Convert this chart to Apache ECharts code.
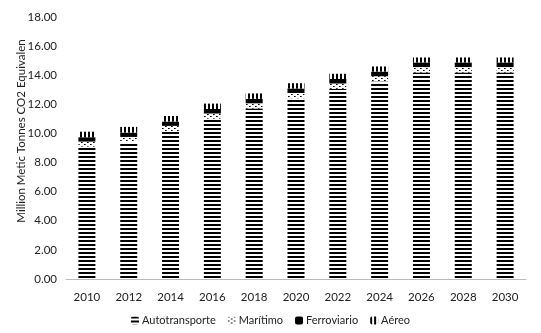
<!DOCTYPE html>
<html><head><meta charset="utf-8">
<script src="https://cdn.jsdelivr.net/npm/echarts@6/dist/echarts.min.js"></script>
<style>html,body{margin:0;padding:0;background:#fff}#c{width:541px;height:333px}</style>
</head><body><div id="c"></div>
<script>
const years = ['2010','2012','2014','2016','2018','2020','2022','2024','2026','2028','2030'];
const autotransporte = [9.10, 9.42, 10.17, 11.02, 11.72, 12.42, 13.07, 13.57, 14.19, 14.19, 14.19];
const maritimo = [0.34, 0.34, 0.35, 0.35, 0.35, 0.36, 0.36, 0.36, 0.37, 0.37, 0.37];
const ferroviario = [0.30, 0.30, 0.30, 0.31, 0.31, 0.31, 0.31, 0.32, 0.32, 0.32, 0.32];
const aereo = [0.38, 0.39, 0.38, 0.37, 0.37, 0.36, 0.36, 0.35, 0.34, 0.34, 0.34];
const yTicks = [0,2,4,6,8,10,12,14,16,18];

function pat(w, h, draw) {
  const c = document.createElement('canvas'); c.width = w; c.height = h;
  const g = c.getContext('2d'); g.fillStyle = '#fff'; g.fillRect(0,0,w,h);
  g.fillStyle = '#000'; draw(g); return {image: c, repeat: 'repeat'};
}
const pAuto = pat(4, 4, g => g.fillRect(0,0,4,2));
const pMar = pat(6, 4, g => { g.fillRect(0,0,1,1); g.fillRect(3,2,1,1); g.fillStyle='#555'; g.fillRect(1,0,1,1); g.fillRect(4,2,1,1); });
const pAer = pat(4, 4, g => g.fillRect(0,0,2,4));

const chart = echarts.init(document.getElementById('c'), null, {renderer: 'canvas'});
const font = 'Lato, "Open Sans", sans-serif';
function s(name, data, color) {
  return { name, type: 'bar', stack: 't', data, barWidth: 17,
    itemStyle: { color }, emphasis: { disabled: true } };
}
chart.setOption({
  animation: false,
  grid: { left: 66, right: 15, top: 17, bottom: 54 },
  graphic: [{ type: 'text', x: 21, y: 131, rotation: Math.PI/2,
    style: { text: 'Million Metic Tonnes CO2 Equivalen', font: '11.5px ' + font, fill: '#222',
      textAlign: 'center', textVerticalAlign: 'middle' } }],
  legend: { bottom: 2, left: 'center', itemWidth: 8, itemHeight: 8, itemGap: 12,
    textStyle: { fontFamily: font, fontSize: 11, color: '#222', padding: [0,0,0,-2] },
    data: ['Autotransporte','Marítimo','Ferroviario','Aéreo'] },
  xAxis: { type: 'category', data: years,
    axisLine: { lineStyle: { color: '#bbb' } }, axisTick: { show: false },
    axisLabel: { fontFamily: font, fontSize: 11.5, color: '#222', margin: 12 } },
  yAxis: { type: 'value', min: 0, max: 18, interval: 2,
    splitLine: { show: false }, axisLine: { show: false },
    axisLabel: { fontFamily: font, fontSize: 11.5, color: '#222', margin: 9,
      formatter: v => yTicks.includes(v) ? v.toFixed(2) : '' } },
  series: [
    s('Autotransporte', autotransporte, pAuto),
    s('Marítimo', maritimo, pMar),
    s('Ferroviario', ferroviario, '#000'),
    s('Aéreo', aereo, pAer)
  ]
});
</script></body></html>
